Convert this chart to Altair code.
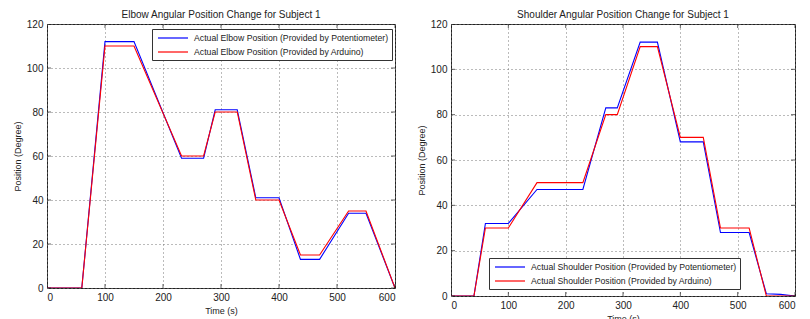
import altair as alt
import pandas as pd

# Elbow (left panel)
elbow_pot_t = [0, 60, 100, 150, 232, 270, 290, 328, 360, 400, 437, 470, 520, 550, 600]
elbow_pot_v = [0, 0, 112, 112, 59, 59, 81, 81, 41, 41, 13, 13, 34, 34, 0]
elbow_ard_t = [0, 60, 100, 150, 232, 270, 290, 328, 360, 400, 437, 470, 520, 550, 600]
elbow_ard_v = [0, 0, 110, 110, 60, 60, 80, 80, 40, 40, 15, 15, 35, 35, 0]

# Shoulder (right panel)
sh_pot_t = [0, 40, 60, 100, 150, 230, 270, 290, 330, 360, 400, 440, 470, 520, 550, 575, 600]
sh_pot_v = [0, 0, 32, 32, 47, 47, 83, 83, 112, 112, 68, 68, 28, 28, 1, 0.7, 0]
sh_ard_t = [0, 40, 60, 100, 150, 230, 270, 290, 330, 360, 400, 440, 470, 520, 550, 600]
sh_ard_v = [0, 0, 30, 30, 50, 50, 80, 80, 110, 110, 70, 70, 30, 30, 0, 0]

x_ticks = [0, 100, 200, 300, 400, 500, 600]
y_ticks = [0, 20, 40, 60, 80, 100, 120]

FONT = "Liberation Sans"


def panel(pt, pv, at, av, names, title, w, h, lx, ly):
    df = pd.concat([
        pd.DataFrame({"t": pt, "v": pv, "s": names[0], "o": 0}),
        pd.DataFrame({"t": at, "v": av, "s": names[1], "o": 1}),
    ])
    xs = alt.Scale(domain=[0, 600], nice=False)
    ys = alt.Scale(domain=[0, 120], nice=False)
    xa = alt.Axis(values=x_ticks, title="Time (s)", grid=True)
    ya = alt.Axis(values=y_ticks, title="Position (Degree)", grid=True)
    lines = alt.Chart(df).mark_line(strokeWidth=1.1, clip=True).encode(
        x=alt.X("t:Q", scale=xs, axis=xa),
        y=alt.Y("v:Q", scale=ys, axis=ya),
        color=alt.Color(
            "s:N",
            scale=alt.Scale(domain=names, range=["#0000ff", "#ff0000"]),
            sort=names,
            legend=alt.Legend(
                title=None, orient="none", legendX=lx, legendY=ly,
                symbolType="M-3,0H3", symbolSize=100, symbolStrokeWidth=1.2,
                symbolOffset=12,
                strokeColor="#333", fillColor="white", padding=3,
                labelFont=FONT, labelFontSize=8.7, labelColor="#222",
                labelLimit=400, rowPadding=3, labelOffset=15,
            ),
        ),
        order="o:Q",
        detail="s:N",
    )
    tdf = pd.DataFrame({"x": x_ticks})
    ydf = pd.DataFrame({"y": y_ticks})
    tick_b = alt.Chart(tdf).mark_tick(orient="vertical", size=8, color="#222", thickness=1, clip=True).encode(
        x=alt.X("x:Q", scale=xs), y=alt.Y(datum=0, scale=ys))
    tick_t = alt.Chart(tdf).mark_tick(orient="vertical", size=8, color="#222", thickness=1, clip=True).encode(
        x=alt.X("x:Q", scale=xs), y=alt.Y(datum=120, scale=ys))
    tick_l = alt.Chart(ydf).mark_tick(orient="horizontal", size=8, color="#222", thickness=1, clip=True).encode(
        y=alt.Y("y:Q", scale=ys), x=alt.X(datum=0, scale=xs))
    tick_r = alt.Chart(ydf).mark_tick(orient="horizontal", size=8, color="#222", thickness=1, clip=True).encode(
        y=alt.Y("y:Q", scale=ys), x=alt.X(datum=600, scale=xs))
    return alt.layer(lines, tick_b, tick_t, tick_l, tick_r).properties(
        width=w, height=h,
        title=alt.TitleParams(title, font=FONT, fontSize=10, fontWeight="normal", color="#222", offset=-1),
    )


left = panel(elbow_pot_t, elbow_pot_v, elbow_ard_t, elbow_ard_v,
             ["Actual Elbow Position (Provided by Potentiometer)",
              "Actual Elbow Position (Provided by Arduino)"],
             "Elbow Angular Position Change for Subject 1", 348, 264, 105, 5)
right = panel(sh_pot_t, sh_pot_v, sh_ard_t, sh_ard_v,
              ["Actual Shoulder Position (Provided by Potentiometer)",
               "Actual Shoulder Position (Provided by Arduino)"],
              "Shoulder Angular Position Change for Subject 1", 344, 272, 38, 234)

chart = alt.hconcat(left, right, spacing=20).resolve_scale(color="independent").properties(
    padding={"left": 12, "top": 9, "right": 3, "bottom": 0},
    background="white",
).configure_view(stroke="#222", strokeWidth=1).configure_axis(
    gridDash=[1, 3], gridColor="#777", gridOpacity=1, gridWidth=1,
    ticks=False, domain=False, labelFont=FONT, labelFontSize=10, labelColor="#222",
    titleFont=FONT, titleFontSize=9, titleFontWeight="normal", titleColor="#222",
    labelPadding=4, titlePadding=4,
).configure_legend(strokeWidth=1)

chart.save("out.html", embed_options={"renderer": "svg", "actions": False})
